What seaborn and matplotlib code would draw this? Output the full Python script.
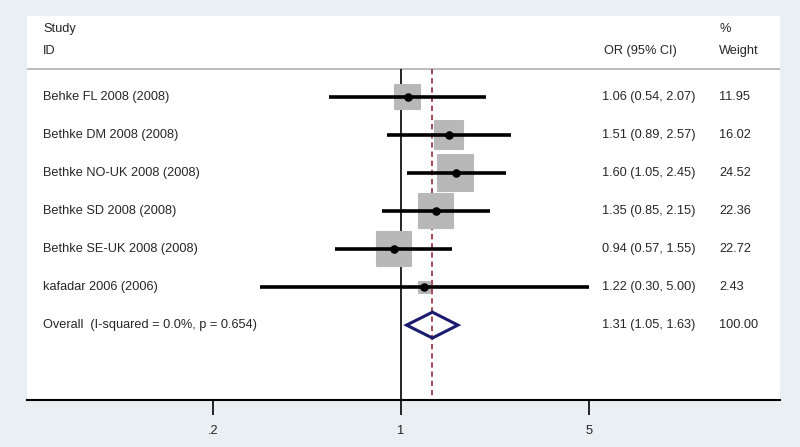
import numpy as np
import pandas as pd
import matplotlib
matplotlib.use('Agg')
import matplotlib.pyplot as plt
from matplotlib.patches import Polygon
import seaborn as sns

# study-level data
studies = ['Behke FL 2008 (2008)', 'Bethke DM 2008 (2008)', 'Bethke NO-UK 2008 (2008)',
           'Bethke SD 2008 (2008)', 'Bethke SE-UK 2008 (2008)', 'kafadar 2006 (2006)']
odds_ratio = [1.06, 1.51, 1.60, 1.35, 0.94, 1.22]
ci_lower = [0.54, 0.89, 1.05, 0.85, 0.57, 0.30]
ci_upper = [2.07, 2.57, 2.45, 2.15, 1.55, 5.00]
weights = [11.95, 16.02, 24.52, 22.36, 22.72, 2.43]

overall_label = 'Overall  (I-squared = 0.0%, p = 0.654)'
overall_or = 1.31
overall_lower = 1.05
overall_upper = 1.63
overall_weight = 100.00

tick_values = [0.2, 1, 5]
tick_labels = ['.2', '1', '5']

bg = '#e9eff2'
sns.set_theme(style='white')
plt.rcParams['font.family'] = ['Liberation Sans', 'DejaVu Sans']

df = pd.DataFrame({'study': studies, 'or': odds_ratio, 'lo': ci_lower,
                   'hi': ci_upper, 'w': weights})
df['row'] = np.arange(len(df))
overall_row = len(df)

fig = plt.figure(figsize=(8, 4.47), dpi=100, facecolor=bg)
ax = fig.add_axes([27 / 800, 47 / 447, 753 / 800, 384 / 447])
ax.set_facecolor('white')
ax.set_xscale('log')
ax.set_xlim(0.0407, 25.7)
ax.set_ylim(7.97, -2.13)

# reference lines
sep_y = -0.74
ax.axhline(sep_y, color='#bdbdbd', lw=1.5)
ax.vlines(1, sep_y, 7.97, color='black', lw=1.2)
ax.vlines(overall_or, sep_y, 7.97, color='#8b1a2a', lw=1.1, linestyles=(0, (3.5, 2.5)))

# weight boxes (side ~ sqrt(weight))
sns.scatterplot(data=df, x='or', y='row', marker='s', s=df['w'] * 26,
                color='#b8b8b8', edgecolor='#b8b8b8', linewidth=1.5,
                legend=False, ax=ax, zorder=2)
ax.hlines(df['row'], df['lo'], df['hi'], color='black', lw=2.6, zorder=3)
sns.scatterplot(data=df, x='or', y='row', s=38, color='black', linewidth=0,
                legend=False, ax=ax, zorder=4)

# pooled estimate diamond
h = 0.34
diamond = Polygon([[overall_lower, overall_row], [overall_or, overall_row - h],
                   [overall_upper, overall_row], [overall_or, overall_row + h]],
                  closed=True, fill=False, edgecolor='#1a1a6e', lw=2.2, zorder=5)
ax.add_patch(diamond)

# text columns
tr = ax.get_yaxis_transform()
fs = 9.2
x_lab, x_or, x_orh, x_w = 0.0212, 0.764, 0.766, 0.919
ax.text(x_lab, -1.79, 'Study', transform=tr, fontsize=fs, va='center')
ax.text(x_lab, -1.2, 'ID', transform=tr, fontsize=fs, va='center')
ax.text(x_orh, -1.2, 'OR (95% CI)', transform=tr, fontsize=fs, va='center')
ax.text(x_w, -1.79, '%', transform=tr, fontsize=fs, va='center')
ax.text(x_w, -1.2, 'Weight', transform=tr, fontsize=fs, va='center')

for _, r in df.iterrows():
    ax.text(x_lab, r['row'], r['study'], transform=tr, fontsize=fs, va='center')
    ax.text(x_or, r['row'], f"{r['or']:.2f} ({r['lo']:.2f}, {r['hi']:.2f})",
            transform=tr, fontsize=fs, va='center')
    ax.text(x_w, r['row'], f"{r['w']:.2f}", transform=tr, fontsize=fs, va='center')

ax.text(x_lab, overall_row, overall_label, transform=tr, fontsize=fs, va='center')
ax.text(x_or, overall_row, f"{overall_or:.2f} ({overall_lower:.2f}, {overall_upper:.2f})",
        transform=tr, fontsize=fs, va='center')
ax.text(x_w, overall_row, f"{overall_weight:.2f}", transform=tr, fontsize=fs, va='center')

# axes styling
for s in ['top', 'left', 'right']:
    ax.spines[s].set_visible(False)
ax.spines['bottom'].set_color('black')
ax.spines['bottom'].set_linewidth(1.5)
ax.set_yticks([])
ax.set_xticks(tick_values)
ax.set_xticklabels(tick_labels)
ax.minorticks_off()
ax.tick_params(axis='x', bottom=True, length=11, width=1.2, color='black',
               pad=7, labelsize=fs, labelcolor='#222222')
ax.set_xlabel('')
ax.set_ylabel('')

fig.savefig('out.png', dpi=100, facecolor=bg)
